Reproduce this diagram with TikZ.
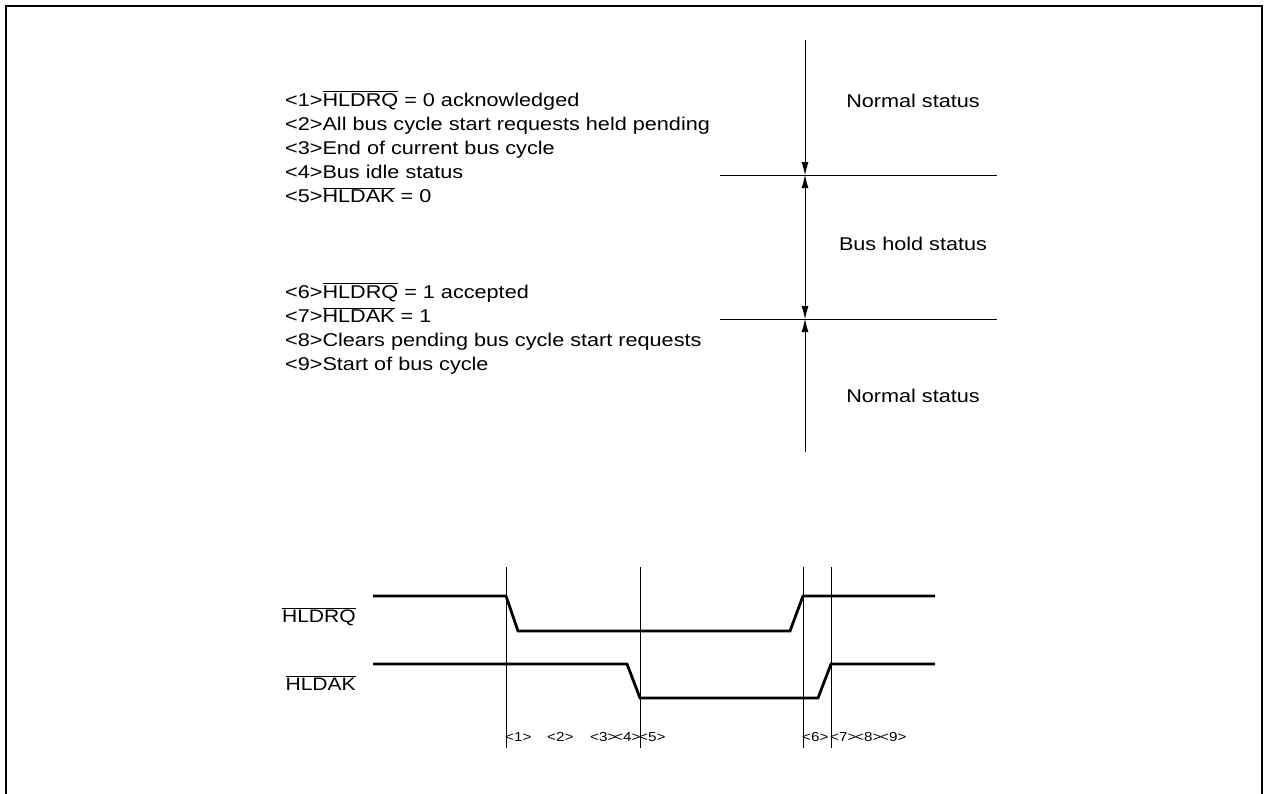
\documentclass[tikz,border=0pt]{standalone}
\usepackage{fontspec}
\setmainfont[FakeStretch=1.17]{Liberation Sans}
\usetikzlibrary{arrows.meta}
\newcommand\ovl[1]{$\overline{\hbox{#1}}$}
\begin{document}
\begin{tikzpicture}[x=1pt,y=-1pt,
  txt/.style={inner sep=0pt,font=\fontsize{18.5}{22}\selectfont},
  siglbl/.style={inner sep=0pt,anchor=base east,font=\fontsize{18}{22}\selectfont},
  seglbl/.style={inner sep=0pt,anchor=base west,font=\fontsize{13}{16}\selectfont},
  sig/.style={line width=2.8pt,line join=miter},
  thin/.style={line width=0.8pt},
  tip/.style={-{Latex[length=13pt,width=7pt]}},
  frame/.style={line width=2.4pt}]
\useasboundingbox (0,0) rectangle (1264,793);
% frame
\draw[frame] (6,800) -- (6,6) -- (1262,6) -- (1262,800);
% list
\node[txt,anchor=base west] (l1) at (285,106) {<1>\ovl{HLDRQ} = 0 acknowledged};
\node[txt,anchor=base west] (l2) at (285,130) {<2>All bus cycle start requests held pending};
\node[txt,anchor=base west] (l3) at (285,154) {<3>End of current bus cycle};
\node[txt,anchor=base west] (l4) at (285,178) {<4>Bus idle status};
\node[txt,anchor=base west] (l5) at (285,202) {<5>\ovl{HLDAK} = 0};
\node[txt,anchor=base west] (l6) at (285,298) {<6>\ovl{HLDRQ} = 1 accepted};
\node[txt,anchor=base west] (l7) at (285,322) {<7>\ovl{HLDAK} = 1};
\node[txt,anchor=base west] (l8) at (285,346) {<8>Clears pending bus cycle start requests};
\node[txt,anchor=base west] (l9) at (285,370) {<9>Start of bus cycle};
% status
\coordinate (vtop) at (805,40);
\coordinate (h1) at (805,175);
\coordinate (h2) at (805,319);
\coordinate (vbot) at (805,452);
\coordinate (h1l) at (720,175); \coordinate (h1r) at (997,175);
\coordinate (h2l) at (720,319); \coordinate (h2r) at (997,319);
\draw[thin] (h1l) -- (h1r);
\draw[thin] (h2l) -- (h2r);
\draw[thin,tip] (vtop) -- (h1);
\draw[thin,{Latex[length=13pt,width=7pt]}-{Latex[length=13pt,width=7pt]}] (h1) -- (h2);
\draw[thin,tip] (vbot) -- (h2);
\node[txt,anchor=base] (s1) at (913,107) {Normal status};
\node[txt,anchor=base] (s2) at (913,250) {Bus hold status};
\node[txt,anchor=base] (s3) at (913,402) {Normal status};
% timing
\node[siglbl] (rq) at (356,622) {\ovl{HLDRQ}};
\node[siglbl] (ak) at (356,690) {\ovl{HLDAK}};
\foreach \x [count=\i] in {506,640,803,831}{
  \coordinate (t\i a) at (\x,567);
  \coordinate (t\i b) at (\x,748);
  \draw[thin] (t\i a) -- (t\i b);
}
\draw[sig] (373,596) -- (506,596) -- (518,631) -- (790,631) -- (803,596) -- (935,596);
\draw[sig] (373,664) -- (627,664) -- (640,698) -- (818,698) -- (831,664) -- (935,664);
\node[seglbl] (p1) at (505,741) {<1>};
\node[seglbl] (p2) at (547,741) {<2>};
\node[seglbl] (p3) at (590,741) {<3>};
\node[seglbl] (p4) at (614,741) {<4>};
\node[seglbl] (p5) at (639,741) {<5>};
\node[seglbl] (p6) at (802,741) {<6>};
\node[seglbl] (p7) at (830,741) {<7>};
\node[seglbl] (p8) at (855,741) {<8>};
\node[seglbl] (p9) at (880,741) {<9>};
\end{tikzpicture}
\end{document}
